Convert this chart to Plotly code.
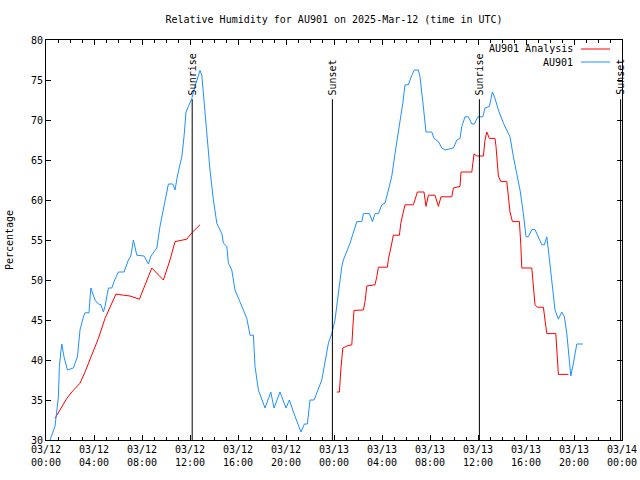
import pandas as pd
import plotly.graph_objects as go

START = pd.Timestamp("2025-03-12 00:00")

# AU901 observations: minutes since 2025-03-12 00:00 UTC, relative humidity (%)
obs_minutes = [20, 45, 62, 67, 74, 79, 84, 90, 107, 137, 157, 170, 187, 195, 215, 224, 245, 262, 275, 287,
               295, 312, 329, 340, 362, 390, 412, 424, 437, 454, 490, 512, 525, 554, 570, 595, 612, 634, 645, 657,
               679, 690, 700, 712, 729, 745, 762, 770, 779, 790, 804, 820, 837, 854, 879, 887, 904, 912, 929, 945,
               987, 1004, 1020, 1037, 1045, 1062, 1095, 1124, 1140, 1170, 1200, 1217, 1237, 1275, 1292, 1307, 1320, 1340, 1379, 1412,
               1429, 1445, 1479, 1487, 1520, 1554, 1579, 1587, 1617, 1632, 1645, 1662, 1679, 1695, 1712, 1729, 1745, 1770, 1784, 1795,
               1812, 1829, 1842, 1862, 1870, 1884, 1900, 1929, 1940, 1962, 1979, 1995, 2037, 2054, 2070, 2079, 2095, 2112, 2129, 2142,
               2159, 2184, 2195, 2217, 2232, 2245, 2262, 2287, 2320, 2337, 2354, 2370, 2387, 2400, 2412, 2429, 2445, 2462, 2479, 2492,
               2504, 2512, 2520, 2534, 2545, 2562, 2579, 2592, 2604, 2615, 2624, 2637, 2645, 2654, 2684]
obs_rh = [30.0, 31.7, 35.4, 39.2, 41.0, 42.0, 41.25, 40.4, 38.75, 39.0, 40.4, 43.75, 45.4, 45.9, 45.9, 49.0, 47.5, 47.0, 46.9, 46.0,
          46.7, 49.0, 49.0, 49.8, 51.0, 51.0, 52.5, 53.0, 55.0, 53.1, 53.0, 52.0, 53.0, 54.0, 56.7, 60.0, 62.0, 62.0, 61.25, 63.0,
          65.4, 67.9, 71.0, 71.7, 72.7, 74.2, 75.4, 76.2, 75.6, 72.3, 67.9, 63.75, 60.0, 57.1, 55.8, 54.6, 54.2, 52.1, 51.25, 48.75,
          46.25, 45.2, 43.1, 43.1, 39.2, 36.25, 34.0, 36.0, 34.0, 36.0, 34.0, 35.0, 33.5, 31.0, 32.0, 32.0, 35.0, 35.0, 37.5, 42.1,
          43.3, 45.0, 51.7, 52.5, 54.6, 57.3, 57.3, 58.3, 58.3, 57.3, 58.3, 58.3, 59.4, 59.6, 61.25, 63.0, 65.8, 69.6, 72.1, 74.4,
          74.4, 75.6, 76.25, 76.25, 75.4, 72.3, 68.5, 68.5, 67.7, 67.3, 66.5, 66.25, 66.5, 67.5, 67.7, 69.2, 70.4, 70.4, 69.5, 69.5,
          70.4, 70.4, 71.5, 71.7, 73.5, 72.7, 71.25, 69.6, 67.9, 65.4, 63.3, 61.25, 58.3, 55.4, 55.4, 56.3, 56.3, 55.4, 54.4, 54.4,
          55.4, 53.75, 51.7, 48.3, 46.25, 45.1, 46.0, 45.4, 43.3, 40.4, 38.0, 39.6, 41.0, 42.0, 42.0]

# AU901 Analysis: minutes since start, relative humidity (%); None = gap
ana_minutes = [45, 70, 104, 129, 154, 170, 195, 220, 262, 295, 329, 350, 387, 420, 467, 495, 529, 587, 620, 645,
               679, 704, 729, 754, 770, 1100,
               1454, 1467, 1474, 1484, 1504, 1529, 1534, 1540, 1587, 1595, 1604, 1645, 1654, 1662, 1707, 1712, 1724, 1737, 1767, 1774,
               1795, 1837, 1857, 1890, 1900, 1912, 1945, 1962, 1975, 2029, 2037, 2070, 2075, 2129, 2140, 2154, 2187, 2195, 2204, 2217,
               2245, 2250, 2262, 2274, 2304, 2315, 2320, 2332, 2367, 2374, 2379, 2429, 2437, 2445, 2457, 2487, 2495, 2504, 2549, 2554,
               2562, 2612]
ana_rh = [32.7, 33.75, 35.2, 36.0, 36.7, 37.1, 38.5, 40.0, 42.7, 45.2, 47.1, 48.25, 48.1, 48.0, 47.6, 49.4, 51.5, 50.0, 52.5, 54.8,
          55.0, 55.1, 55.9, 56.5, 56.9, None,
          36.0, 36.0, 38.75, 41.5, 41.75, 41.9, 44.0, 46.2, 46.25, 47.3, 49.25, 49.4, 50.4, 51.6, 51.6, 52.6, 54.0, 55.6, 55.6, 57.1,
          59.4, 59.4, 61.0, 61.0, 59.2, 60.6, 60.6, 59.2, 60.4, 60.4, 61.5, 61.7, 63.5, 63.5, 65.75, 65.5, 65.5, 67.5, 68.5, 67.7,
          67.7, 66.7, 63.0, 62.3, 62.3, 60.0, 58.5, 57.3, 57.3, 54.4, 51.5, 51.5, 49.2, 46.9, 46.6, 46.6, 45.0, 43.3, 43.3, 40.8,
          38.2, 38.2]

# Sun events
event_labels = ["Sunrise", "Sunset", "Sunrise", "Sunset"]
event_minutes = [731, 1432, 2167, 2873]
event_top = 72.6

series_names = ["AU901 Analysis", "AU901"]
series_colors = ["#ff0000", "#1e90ff"]

FONT = "DejaVu Sans Mono"

def to_time(mins):
    return [START + pd.Timedelta(minutes=m) for m in mins]

fig = go.Figure()
fig.add_trace(go.Scatter(x=to_time(ana_minutes), y=ana_rh, mode="lines", name=series_names[0],
                         line=dict(color=series_colors[0], width=1), connectgaps=False, showlegend=False))
fig.add_trace(go.Scatter(x=to_time(obs_minutes), y=obs_rh, mode="lines", name=series_names[1],
                         line=dict(color=series_colors[1], width=1), showlegend=False))

for lab, m in zip(event_labels, event_minutes):
    t = START + pd.Timedelta(minutes=m)
    fig.add_shape(type="line", x0=t, x1=t, y0=30, y1=event_top, xref="x", yref="y",
                  line=dict(color="black", width=1))
    fig.add_annotation(x=t, y=event_top, xref="x", yref="y", text=lab, textangle=-90,
                       showarrow=False, xanchor="center", yanchor="bottom", yshift=2,
                       font=dict(family=FONT, size=10, color="black"))

# legend (gnuplot style: text on left, sample on right)
for i, (nm, col) in enumerate(zip(series_names, series_colors)):
    ypx = 49 + 13 * i
    yp = 1 - (ypx - 40) / 400
    fig.add_annotation(x=(575 - 46) / 576, y=yp, xref="paper", yref="paper", text=nm,
                       showarrow=False, xanchor="right", yanchor="middle",
                       font=dict(family=FONT, size=10, color="black"))
    fig.add_shape(type="line", xref="paper", yref="paper",
                  x0=(581 - 46) / 576, x1=(610 - 46) / 576, y0=yp, y1=yp,
                  line=dict(color=col, width=1))

fig.update_layout(
    width=640, height=480,
    margin=dict(l=46, r=18, t=40, b=40, autoexpand=False),
    paper_bgcolor="white", plot_bgcolor="white",
    font=dict(family=FONT, size=10, color="black"),
    title=dict(text="Relative Humidity for AU901 on 2025-Mar-12 (time in UTC)",
               x=0.5, xref="paper", xanchor="center", y=1 - 19 / 480, yref="container", yanchor="middle",
               font=dict(family=FONT, size=10, color="black")),
    showlegend=False,
)
fig.update_xaxes(
    range=[START, START + pd.Timedelta(hours=48)],
    tickformat="%m/%d<br>%H:%M", dtick=4 * 3600 * 1000, tick0=START,
    ticks="inside", ticklen=5, tickcolor="black",
    minor=dict(dtick=3600 * 1000, ticks="inside", ticklen=3, tickcolor="black"),
    showline=True, linecolor="black", linewidth=1, mirror="allticks",
    showgrid=False, zeroline=False,
    tickfont=dict(family=FONT, size=10, color="black"),
)
fig.update_yaxes(
    range=[30, 80], dtick=5, ticks="inside", ticklen=5, tickcolor="black",
    showline=True, linecolor="black", linewidth=1, mirror="allticks",
    showgrid=False, zeroline=False,
    title=dict(text="Percentage", font=dict(family=FONT, size=10, color="black"), standoff=15),
    tickfont=dict(family=FONT, size=10, color="black"),
)

fig.write_html("out.html", config={"displayModeBar": False},
               post_script="document.body.style.margin='0';")
